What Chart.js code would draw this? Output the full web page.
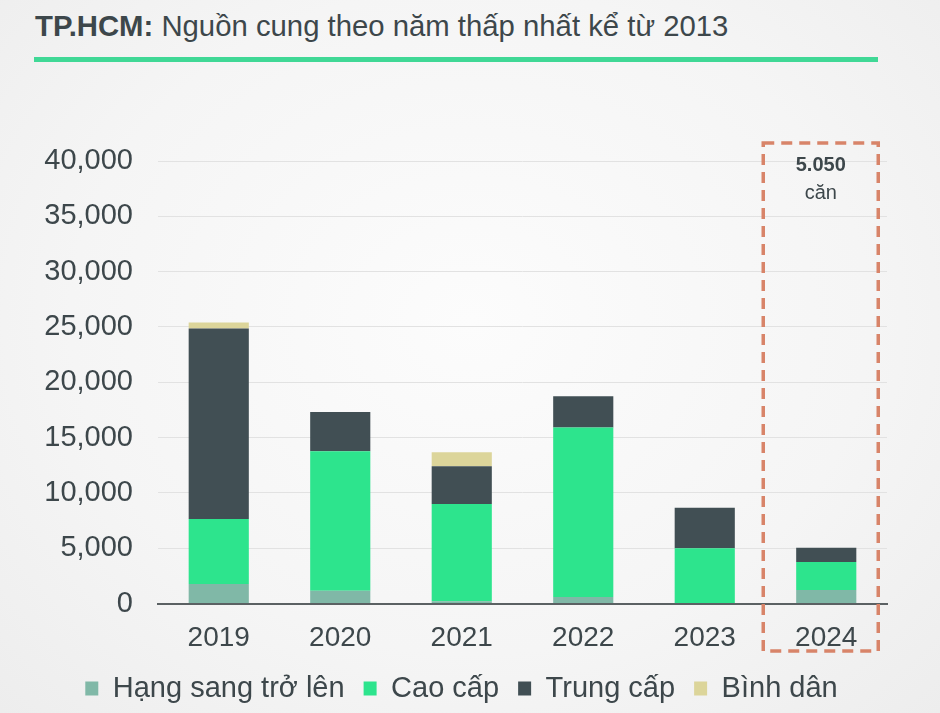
<!DOCTYPE html>
<html><head><meta charset="utf-8">
<script src="https://cdn.jsdelivr.net/npm/chart.js@4/dist/chart.umd.min.js"></script>
<style>
html,body{margin:0;padding:0;}
body{width:940px;height:713px;overflow:hidden;position:relative;
  background:radial-gradient(ellipse at 50% 45%, #fcfcfc 0%, #f5f5f5 60%, #ededed 100%);
  font-family:"Liberation Sans",Arial,sans-serif;}
#title{position:absolute;left:35px;top:12px;font-size:29.3px;line-height:28px;color:#3d474b;white-space:nowrap;}
#rule{position:absolute;left:34px;top:57px;width:844px;height:5px;background:#40d896;}
#wrap{position:absolute;left:0;top:0;width:940px;height:713px;}
</style></head><body>
<div id="title"><b>TP.HCM:</b> Nguồn cung theo năm thấp nhất kể từ 2013</div>
<div id="rule"></div>
<div id="wrap"><canvas id="c"></canvas></div>
<script>
const categories = ['2019', '2020', '2021', '2022', '2023', '2024'];
const seriesNames = ['Hạng sang trở lên', 'Cao cấp', 'Trung cấp', 'Bình dân'];
const hangSang = [1760, 1150, 200, 590, 0, 1220];
const caoCap   = [5880, 12620, 8800, 15330, 5000, 2540];
const trungCap = [17210, 3530, 3410, 2810, 3650, 1290];
const binhDan  = [550, 0, 1270, 0, 0, 0];
const yTickValues = [0, 5000, 10000, 15000, 20000, 25000, 30000, 35000, 40000];
const highlightIndex = 5;
const highlightUnit = 'căn';

const colors = ['#80b8a7', '#2de48d', '#414f54', '#dcd59a'];
const textColor = '#3d474b';
const FONT = '"Liberation Sans", Arial, sans-serif';

const highlight = {
  id: 'highlight',
  afterDraw(chart) {
    const {ctx, scales: {x, y}} = chart;
    const cx = x.getPixelForValue(highlightIndex) - 5.5;
    const half = 57.5;
    const top = y.getPixelForValue(yTickValues[yTickValues.length - 1]) - 18;
    const bottom = y.getPixelForValue(0) + 47.5;
    ctx.save();
    ctx.setLineDash([11, 7]);
    ctx.lineWidth = 3.5;
    ctx.strokeStyle = '#d88469';
    ctx.strokeRect(cx - half, top, half * 2, bottom - top);
    const total = hangSang[highlightIndex] + caoCap[highlightIndex] + trungCap[highlightIndex] + binhDan[highlightIndex];
    const totalTxt = total.toLocaleString('de-DE');
    ctx.fillStyle = textColor;
    ctx.textAlign = 'center';
    ctx.textBaseline = 'middle';
    ctx.font = 'bold 20px ' + FONT;
    ctx.fillText(totalTxt, cx, top + 22);
    ctx.font = '20px ' + FONT;
    ctx.fillText(highlightUnit, cx, top + 50);
    ctx.restore();
  }
};

const seriesData = [hangSang, caoCap, trungCap, binhDan];
new Chart(document.getElementById('c'), {
  type: 'bar',
  data: {
    labels: categories,
    datasets: seriesNames.map((n, i) => ({
      label: n,
      data: seriesData[i],
      backgroundColor: colors[i],
      borderWidth: 0,
      barPercentage: 0.495,
      categoryPercentage: 1
    }))
  },
  options: {
    responsive: true,
    maintainAspectRatio: false,
    animation: false,
    layout: {padding: {left: 36, right: 53, top: 161, bottom: 0}},
    plugins: {
      tooltip: {enabled: false},
      legend: {
        position: 'bottom',
        labels: {
          color: textColor,
          font: {family: FONT, size: 29},
          boxWidth: 13,
          boxHeight: 14,
          padding: 19
        }
      }
    },
    scales: {
      x: {
        stacked: true,
        grid: {display: false, drawTicks: false},
        border: {display: true, color: '#5b6163', width: 2},
        ticks: {color: textColor, font: {family: FONT, size: 28}, padding: 18},
        afterFit(s) { s.height = 51.5; }
      },
      y: {
        stacked: true,
        min: 0, max: 40000,
        afterBuildTicks(s) { s.ticks = yTickValues.map(v => ({value: v})); },
        grid: {color: '#e2e2e2', lineWidth: 1, drawTicks: false},
        border: {display: false},
        ticks: {color: textColor, font: {family: FONT, size: 29}, padding: 25,
          callback: v => v.toLocaleString('en-US')},
        afterFit(s) { s.width = 122; }
      }
    }
  },
  plugins: [highlight]
});
</script>
</body></html>
